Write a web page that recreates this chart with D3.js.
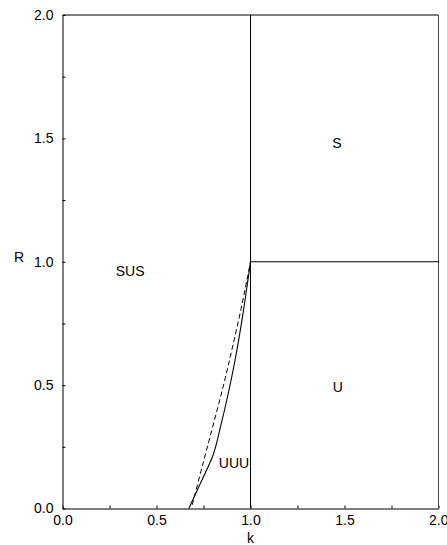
<!DOCTYPE html>
<html><head><meta charset="utf-8">
<script src="https://cdn.jsdelivr.net/npm/d3@7"></script>
<style>body{margin:0;background:#fff}svg{display:block}text{font-family:"Liberation Sans",Arial,sans-serif}</style>
</head><body>
<script>
// Phase boundaries (k, R)
const solidK = [0.672, 0.716, 0.760, 0.800, 0.840, 0.880, 0.920, 0.960, 1.0];
const solidR = [0.000, 0.073, 0.145, 0.215, 0.330, 0.460, 0.610, 0.790, 1.0];
const dashK  = [0.690, 0.750, 0.800, 0.850, 0.900, 0.950, 1.0];
const dashR  = [0.015, 0.190, 0.335, 0.480, 0.640, 0.810, 1.0];
// straight boundaries
const vertK = [1.0, 1.0], vertR = [0.0, 2.0];
const horizK = [1.0, 2.0], horizR = [1.0, 1.0];
// region labels
const labelText = ["SUS", "S", "U", "UUU"];
const labelK = [0.36, 1.46, 1.465, 0.912];
const labelR = [0.943, 1.46, 0.473, 0.164];
// ticks
const tickVals = [0, 0.25, 0.5, 0.75, 1.0, 1.25, 1.5, 1.75, 2.0];
const tickLabels = ["0.0", "", "0.5", "", "1.0", "", "1.5", "", "2.0"];

const W = 447, H = 545;
const svg = d3.select("body").append("svg").attr("width", W).attr("height", H);
const x = d3.scaleLinear().domain([0, 2]).range([62.5, 438.5]);
const y = d3.scaleLinear().domain([0, 2]).range([508.5, 15]);

const fmt = (d) => tickLabels[tickVals.indexOf(d)];
const xa = svg.append("g").attr("transform", `translate(0,${y(0)})`)
  .call(d3.axisBottom(x).tickValues(tickVals).tickFormat(fmt).tickSizeInner(-3).tickSizeOuter(0).tickPadding(7));
const ya = svg.append("g").attr("transform", `translate(${x(0)},0)`)
  .call(d3.axisLeft(y).tickValues(tickVals).tickFormat(fmt).tickSizeInner(-3).tickSizeOuter(0).tickPadding(9));
[xa, ya].forEach(g => {
  g.selectAll("text").attr("font-size", 14).attr("fill", "#000").attr("font-family", "Liberation Sans, Arial, sans-serif");
  g.selectAll("line").attr("stroke", "#000");
  g.select(".domain").attr("stroke", "#000");
});
// keep the last x tick label inside the window
xa.selectAll(".tick").filter(d => d === 2).select("text").attr("text-anchor", "end").attr("dx", "9.5");

// top & right frame
svg.append("line").attr("x1", x(0)).attr("x2", x(2)).attr("y1", y(2)).attr("y2", y(2)).attr("stroke", "#000");
svg.append("line").attr("x1", x(2)).attr("x2", x(2)).attr("y1", y(0)).attr("y2", y(2)).attr("stroke", "#444");

const straight = d3.line().x(d => x(d[0])).y(d => y(d[1]));
const smooth = d3.line().x(d => x(d[0])).y(d => y(d[1])).curve(d3.curveMonotoneY);
const zip = (a, b) => a.map((v, i) => [v, b[i]]);

svg.append("path").attr("d", straight(zip(vertK, vertR))).attr("stroke", "#000").attr("fill", "none");
svg.append("path").attr("d", straight(zip(horizK, horizR))).attr("stroke", "#000").attr("fill", "none");
svg.append("path").attr("d", smooth(zip(solidK, solidR))).attr("stroke", "#000").attr("fill", "none").attr("stroke-width", 1.1);
svg.append("path").attr("d", smooth(zip(dashK, dashR))).attr("stroke", "#000").attr("fill", "none").attr("stroke-dasharray", "5,3");

svg.selectAll(".lab").data(labelText).enter().append("text")
  .attr("x", (d, i) => x(labelK[i])).attr("y", (d, i) => y(labelR[i]))
  .attr("text-anchor", "middle").attr("font-size", 14).text(d => d);

svg.append("text").attr("x", x(1)).attr("y", 543).attr("text-anchor", "middle").attr("font-size", 14).text("k");
svg.append("text").attr("x", 14).attr("y", 262).attr("font-size", 14).text("R");
</script>
</body></html>
